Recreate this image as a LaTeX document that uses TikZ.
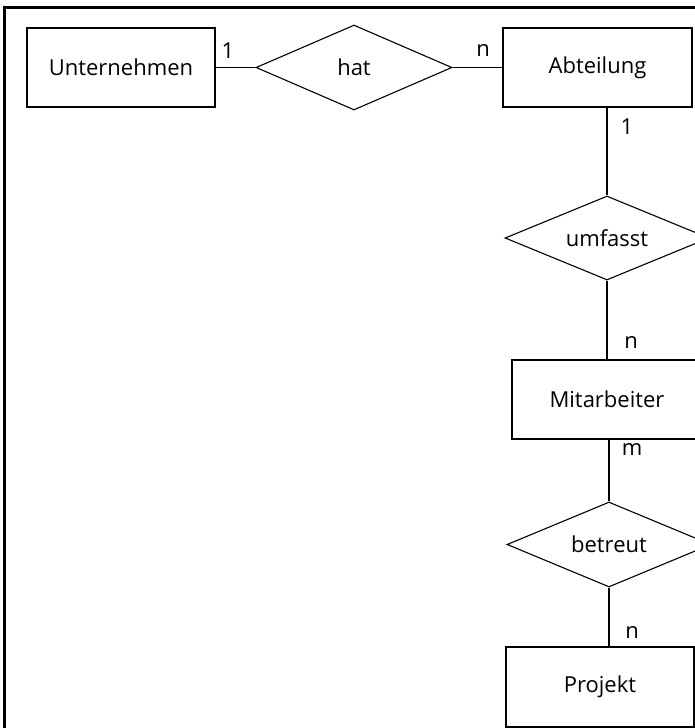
\documentclass[tikz,border=0pt]{standalone}
\usepackage{fontspec}
\setmainfont{Open Sans}
\usetikzlibrary{shapes.geometric}
\begin{document}
\begin{tikzpicture}[x=1pt,y=-1pt,
  every node/.style={font=\fontsize{22}{26}\selectfont},
  entity/.style={draw,line width=1.1pt,rectangle,inner sep=0pt},
  relation/.style={draw,line width=1.1pt,diamond,aspect=2.4,inner sep=0pt},
  link/.style={line width=1.1pt},
  card/.style={inner sep=0pt,anchor=center}]
\useasboundingbox (0,0) rectangle (695,728);
\clip (0,0) rectangle (695,728);
\fill[white] (0,0) rectangle (695,728);
% outer frame, running past the right and bottom edges
\draw[line width=3pt] (4,760) -- (4,7) -- (720,7);

% entities and relationships
\node[entity,minimum width=188,minimum height=79] (unt) at (121,67.5) {Unternehmen};
\node[relation,minimum width=196,minimum height=85] (hat) at (354,67.5) {hat};
\node[entity,minimum width=189,minimum height=79] (abt) at (597.5,67.5) {Abteilung};
\node[relation,minimum width=204,minimum height=84] (umf) at (607,238) {umfasst};
\node[entity,minimum width=190,minimum height=79] (mit) at (607,399.5) {Mitarbeiter};
\node[relation,minimum width=204,minimum height=85] (bet) at (609,544.5) {betreut};
\node[entity,minimum width=188,minimum height=80] (pro) at (600,687) {Projekt};

% connectors
\draw[link] (unt.east) -- (hat.west);
\draw[link] (hat.east) -- (abt.west);
\draw[link] (umf.north |- abt.south) -- (umf.north);
\draw[link] (umf.south) -- (umf.south |- mit.north);
\draw[link] (bet.north |- mit.south) -- (bet.north);
\draw[link] (bet.south) -- (bet.south |- pro.north);

% cardinalities
\node[card] (c1) at (228,51) {1};
\node[card] (c2) at (483,51) {n};
\node[card] (c3) at (627,127) {1};
\node[card] (c4) at (631,343) {n};
\node[card] (c5) at (632,450) {m};
\node[card] (c6) at (632,632) {n};
\end{tikzpicture}
\end{document}
